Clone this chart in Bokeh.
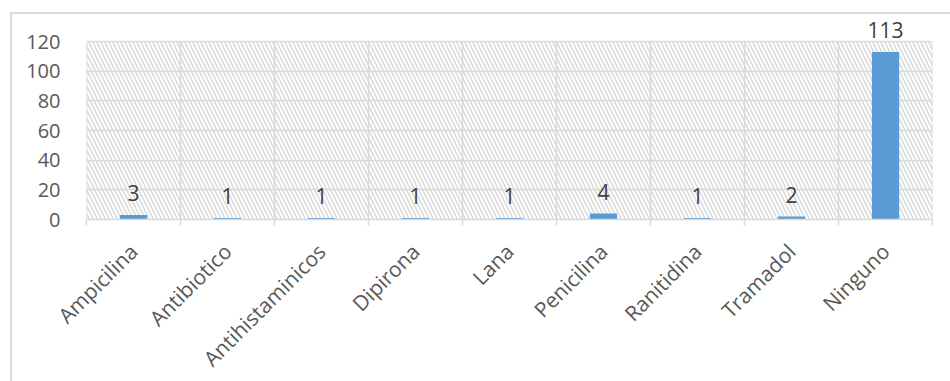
from math import pi
from bokeh.plotting import figure
from bokeh.models import FixedTicker, ColumnDataSource, Range1d, LabelSet
from bokeh.core.properties import value
from bokeh.embed import file_html
from bokeh.resources import INLINE

categories = ["Ampicilina", "Antibiotico", "Antihistaminicos", "Dipirona", "Lana",
              "Penicilina", "Ranitidina", "Tramadol", "Ninguno"]
counts = [3, 1, 1, 1, 1, 4, 1, 2, 113]
y_ticks = [0, 20, 40, 60, 80, 100, 120]

FONT = "Open Sans"
n = len(categories)
centers = [i + 0.5 for i in range(n)]
bounds = list(range(n + 1))
y_max = y_ticks[-1]
px_per_unit = 178 / y_max
head_px = 20                      # room above the plot area for the tallest label
y_end = y_max + head_px / px_per_unit

src = ColumnDataSource(dict(x=centers, top=counts, label=[str(c) for c in counts]))

p = figure(
    frame_width=846, frame_height=178 + head_px,
    min_border_left=74, min_border_right=18, min_border_top=27 - head_px, min_border_bottom=162,
    x_range=Range1d(0, n), y_range=Range1d(0, y_end),
    output_backend="svg", toolbar_location=None,
)
p.styles = {"margin-left": "10px", "margin-top": "12px",
            "border-left": "2px solid #d9d9d9", "border-top": "2px solid #d9d9d9"}
p.outline_line_color = None
p.background_fill_color = "white"
p.border_fill_color = "white"

# hatched plot area (beneath the grid)
p.quad(left=[0], right=[n], bottom=[0], top=[y_max], fill_color="white", line_color=None,
       hatch_pattern="\\", hatch_color="#d9d9d9", hatch_scale=8, hatch_weight=1.5,
       level="image")

# grids
p.xgrid.visible = False
p.segment(x0=bounds, y0=[0] * len(bounds), x1=bounds, y1=[y_max] * len(bounds),
          line_color="#d9d9d9", line_width=1.5, level="underlay")
p.ygrid.ticker = FixedTicker(ticks=y_ticks)
p.ygrid.grid_line_color = "#d9d9d9"
p.ygrid.grid_line_width = 1.5

p.vbar(x="x", top="top", width=0.29, bottom=0, source=src, fill_color="#5b9bd5", line_color=None)

labels = LabelSet(x="x", y="top", text="label", source=src, text_align="center",
                  text_baseline="bottom", y_offset=14, text_font=value(FONT),
                  text_font_size=value("21px"), text_color=value("#404040"))
p.add_layout(labels)

# y axis
p.yaxis.ticker = FixedTicker(ticks=y_ticks)
p.yaxis.axis_line_color = None
p.yaxis.major_tick_line_color = None
p.yaxis.minor_tick_line_color = None
p.yaxis.major_label_standoff = 20
p.yaxis.major_label_text_font = FONT
p.yaxis.major_label_text_font_size = "20px"
p.yaxis.major_label_text_color = "#595959"

# x axis
p.xaxis.ticker = FixedTicker(ticks=centers, minor_ticks=bounds)
p.xaxis.major_label_overrides = {c: cat for c, cat in zip(centers, categories)}
p.xaxis.axis_line_color = "#d9d9d9"
p.xaxis.axis_line_width = 1.5
p.xaxis.major_tick_line_color = None
p.xaxis.major_tick_out = 6
p.xaxis.major_tick_in = 0
p.xaxis.minor_tick_line_color = "#d9d9d9"
p.xaxis.minor_tick_line_width = 1.5
p.xaxis.minor_tick_out = 6
p.xaxis.minor_tick_in = 0
p.xaxis.major_label_orientation = pi / 4
p.xaxis.major_label_standoff = 22
p.xaxis.major_label_text_font = FONT
p.xaxis.major_label_text_font_size = "21px"
p.xaxis.major_label_text_color = "#595959"

open("out.html", "w").write(file_html(p, INLINE))
